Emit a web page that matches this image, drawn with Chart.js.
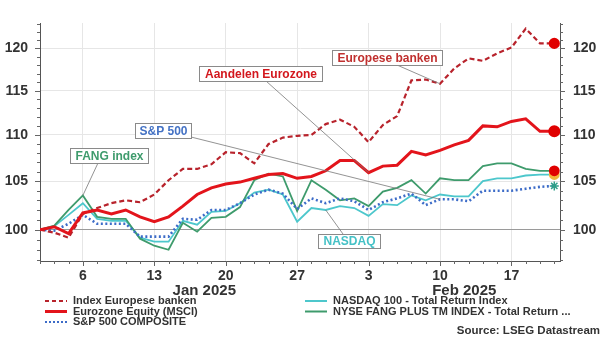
<!DOCTYPE html>
<html>
<head>
<meta charset="utf-8">
<script src="https://cdn.jsdelivr.net/npm/chart.js@4.4.1/dist/chart.umd.min.js"></script>
<style>
html, body { margin: 0; padding: 0; background: #fff; }
</style>
</head>
<body>
<canvas id="chart" width="602" height="338"></canvas>
<script>
// trading days (weekdays) from 1 Jan 2025
const dates = [
    "2025-01-01", "2025-01-02", "2025-01-03",
    "2025-01-06", "2025-01-07", "2025-01-08", "2025-01-09", "2025-01-10",
    "2025-01-13", "2025-01-14", "2025-01-15", "2025-01-16", "2025-01-17",
    "2025-01-20", "2025-01-21", "2025-01-22", "2025-01-23", "2025-01-24",
    "2025-01-27", "2025-01-28", "2025-01-29", "2025-01-30", "2025-01-31",
    "2025-02-03", "2025-02-04", "2025-02-05", "2025-02-06", "2025-02-07",
    "2025-02-10", "2025-02-11", "2025-02-12", "2025-02-13", "2025-02-14",
    "2025-02-17", "2025-02-18", "2025-02-19", "2025-02-20",
];
const months = ["Jan 2025", "Feb 2025"];

const banks = [
    100.0, 99.7, 99.2, 101.6, 102.2, 102.7, 103.0, 102.8, 103.6, 105.1,
    106.3, 106.3, 106.8, 108.1, 108.0, 106.9, 109.0, 109.7, 109.9, 110.0,
    111.2, 111.7, 110.9, 109.2, 111.1, 112.1, 116.2, 116.3, 115.8, 117.6,
    118.8, 118.5, 119.4, 120.1, 122.4, 120.6, 120.6,
];
const eurozone = [
    100.0, 100.3, 99.6, 101.7, 102.0, 101.6, 102.0, 101.3, 100.8, 101.3,
    102.4, 103.6, 104.3, 104.7, 104.9, 105.3, 105.7, 105.8, 105.3, 105.5,
    106.1, 107.2, 107.2, 105.9, 106.6, 106.7, 108.2, 107.8, 108.3, 108.9,
    109.4, 111.0, 110.9, 111.5, 111.8, 110.4, 110.4,
];
const sp500 = [
    100.0, 99.9, 100.6, 101.5, 100.6, 100.6, 100.6, 99.3, 99.3, 99.3,
    101.1, 101.0, 102.0, 102.0, 102.7, 103.6, 104.1, 103.7, 102.1, 103.2,
    102.7, 103.2, 102.9, 102.0, 102.8, 103.2, 103.7, 102.5, 103.1, 103.1,
    102.9, 104.0, 104.0, 104.0, 104.2, 104.4, 104.5,
];
const nasdaq = [
    100.0, 100.35, 101.5, 102.7, 101.1, 100.9, 100.9, 99.2, 98.8, 98.8,
    100.9, 100.5, 101.8, 101.9, 102.7, 103.8, 104.1, 103.6, 100.8, 102.2,
    102.0, 102.4, 102.2, 101.4, 102.6, 102.5, 103.5, 103.0, 103.6, 103.4,
    103.4, 105.0, 105.3, 105.3, 105.6, 105.7, 105.7,
];
const fang = [
    100.0, 100.4, 102.0, 103.5, 101.3, 101.1, 101.1, 99.1, 98.4, 98.0,
    100.7, 99.8, 101.2, 101.3, 102.3, 105.1, 105.8, 105.5, 101.9, 105.1,
    104.1, 103.0, 103.2, 102.4, 103.9, 104.3, 105.1, 103.7, 105.3, 105.1,
    105.1, 106.6, 106.9, 106.9, 106.3, 106.1, 106.1,
];
const yTicks = [100, 105, 110, 115, 120];

const FONT = "'Liberation Sans', Arial, sans-serif";
const last = dates.length - 1;
const mondays = dates.map((d, i) => new Date(d + "T00:00:00").getDay() === 1 ? i : -1).filter(i => i >= 0);
const pts = arr => arr.map((v, i) => ({ x: i, y: v }));
const endOnly = r => c => c.dataIndex === last ? r : 0;

const legendItems = [
    { text: "Index Europese banken", color: "#b8232c", width: 2, dash: [4, 3], col: 0, row: 0 },
    { text: "Eurozone Equity (MSCI)", color: "#e3141b", width: 3, dash: [], col: 0, row: 1 },
    { text: "S&P 500 COMPOSITE", color: "#3d6cc8", width: 2.2, dash: [2, 2], col: 0, row: 2 },
    { text: "NASDAQ 100 - Total Return Index", color: "#4dc7cc", width: 2, dash: [], col: 1, row: 0 },
    { text: "NYSE FANG PLUS TM INDEX - Total Return ...", color: "#3e9b6c", width: 2, dash: [], col: 1, row: 1 },
];

// label boxes and the data point their leader line points to
const notes = [
    { text: "Europese banken", color: "#c0302f", series: banks, idx: 28, box: [332, 50, 110, 15], from: [397, 65] },
    { text: "Aandelen Eurozone", color: "#d3171d", series: eurozone, idx: 23, box: [199, 66, 123, 15], from: [266, 81] },
    { text: "S&P 500", color: "#4472c4", series: sp500, idx: 28, box: [135, 123, 56, 15], from: [191, 137] },
    { text: "FANG index", color: "#3e9b6c", series: fang, idx: 3, box: [70, 148, 78, 15], from: [98, 163] },
    { text: "NASDAQ", color: "#45c1c6", series: nasdaq, idx: 20, box: [318, 234, 62, 14], from: [343, 234] },
];

const extras = {
    id: "extras",
    afterDraw(chart) {
        const { ctx, chartArea: a, scales: { x, y } } = chart;
        ctx.save();

        // minor ticks
        ctx.strokeStyle = "#666";
        ctx.lineWidth = 1;
        ctx.beginPath();
        for (let v = 97; v <= 123; v++) {
            const py = Math.round(y.getPixelForValue(v)) + 0.5;
            const len = v % 5 === 0 ? 5 : 3;
            ctx.moveTo(a.left - len, py); ctx.lineTo(a.left, py);
            ctx.moveTo(a.right, py); ctx.lineTo(a.right + len, py);
        }
        dates.forEach((d, i) => {
            const px = Math.round(x.getPixelForValue(i)) + 0.5;
            const len = mondays.includes(i) ? 5 : 3;
            ctx.moveTo(px, a.bottom); ctx.lineTo(px, a.bottom + len);
        });
        ctx.stroke();

        // month labels
        ctx.fillStyle = "#333";
        ctx.font = "bold 15px " + FONT;
        ctx.textAlign = "center";
        ctx.textBaseline = "middle";
        months.forEach((m, k) => {
            const first = dates.findIndex(d => new Date(d + "T00:00:00").getMonth() === k);
            const next = dates.findIndex(d => new Date(d + "T00:00:00").getMonth() === k + 1);
            const l = first <= 0 ? a.left : x.getPixelForValue(first);
            const r = next < 0 ? a.right : x.getPixelForValue(next);
            ctx.fillText(m, (l + r) / 2, 291);
        });

        // legend
        ctx.font = "bold 11px " + FONT;
        ctx.textAlign = "left";
        legendItems.forEach(it => {
            const lx = it.col === 0 ? 45 : 305;
            const ly = 301 + it.row * 10.5;
            ctx.strokeStyle = it.color;
            ctx.lineWidth = it.width;
            ctx.setLineDash(it.dash);
            ctx.beginPath();
            ctx.moveTo(lx, ly); ctx.lineTo(lx + 22, ly);
            ctx.stroke();
            ctx.setLineDash([]);
            ctx.fillStyle = "#333";
            ctx.fillText(it.text, lx + 28, ly);
        });

        ctx.font = "bold 11.5px " + FONT;
        ctx.textAlign = "right";
        ctx.fillText("Source: LSEG Datastream", 600, 331);

        // annotations
        notes.forEach(n => {
            const tx = x.getPixelForValue(n.idx);
            const ty = y.getPixelForValue(n.series[n.idx]);
            ctx.strokeStyle = "#777";
            ctx.lineWidth = 0.8;
            ctx.beginPath();
            ctx.moveTo(n.from[0], n.from[1]); ctx.lineTo(tx, ty);
            ctx.stroke();
        });
        notes.forEach(n => {
            const [bx, by, bw, bh] = n.box;
            ctx.fillStyle = "#fff";
            ctx.fillRect(bx, by, bw, bh);
            ctx.strokeStyle = "#8a8a8a";
            ctx.lineWidth = 1;
            ctx.strokeRect(bx + 0.5, by + 0.5, bw, bh);
            ctx.fillStyle = n.color;
            ctx.font = "bold 12px " + FONT;
            ctx.textAlign = "center";
            ctx.fillText(n.text, bx + bw / 2 + 0.5, by + bh / 2 + 1);
        });
        ctx.restore();
    }
};

const yAxis = (pos) => ({
    type: "logarithmic",
    position: pos,
    min: 96.9,
    max: 123.1,
    afterBuildTicks: s => { s.ticks = yTicks.map(v => ({ value: v })); },
    afterFit: s => { s.width = pos === "left" ? 40 : 42; },
    ticks: {
        color: "#333",
        padding: pos === "left" ? 12 : 13,
        font: { family: FONT, size: 14, weight: "bold" },
        callback: v => String(v),
    },
    grid: {
        drawOnChartArea: pos === "left",
        drawTicks: false,
        color: c => c.tick && c.tick.value === 100 ? "#9a9a9a" : "#e6e6e6",
    },
    border: { display: true, color: "#555" },
});

new Chart(document.getElementById("chart").getContext("2d"), {
    type: "line",
    data: {
        datasets: [
            {
                label: "Index Europese banken", data: pts(banks), order: 1,
                borderColor: "#b8232c", borderWidth: 2.2, borderDash: [5, 3],
                pointRadius: endOnly(4.5), pointBackgroundColor: "#e00000", pointBorderColor: "#e00000",
            },
            {
                label: "Eurozone Equity (MSCI)", data: pts(eurozone), order: 0,
                borderColor: "#e3141b", borderWidth: 3,
                pointRadius: endOnly(4.5), pointBackgroundColor: "#e00000", pointBorderColor: "#e00000",
            },
            {
                label: "S&P 500 COMPOSITE", data: pts(sp500), order: 2,
                borderColor: "#3d6cc8", borderWidth: 2.6, borderDash: [2, 2.5],
                pointStyle: "star", pointRadius: endOnly(4.5), pointBorderWidth: 1.5,
                pointBackgroundColor: "#2e9e88", pointBorderColor: "#2e9e88",
            },
            {
                label: "NASDAQ 100 - Total Return Index", data: pts(nasdaq), order: 4,
                borderColor: "#4dc7cc", borderWidth: 1.8,
                pointRadius: endOnly(4.5), pointBackgroundColor: "#f2b53a", pointBorderColor: "#f2b53a",
            },
            {
                label: "NYSE FANG PLUS TM INDEX - Total Return ...", data: pts(fang), order: 3,
                borderColor: "#3e9b6c", borderWidth: 1.8,
                pointRadius: endOnly(4.5), pointBackgroundColor: "#e00000", pointBorderColor: "#e00000",
            },
        ],
    },
    options: {
        responsive: false,
        devicePixelRatio: 1,
        animation: false,
        layout: { padding: { top: 23, bottom: 57, left: 0, right: 0 } },
        plugins: { legend: { display: false }, tooltip: { enabled: false } },
        scales: {
            x: {
                type: "linear",
                min: 0,
                max: 36.4,
                afterBuildTicks: s => { s.ticks = mondays.map(i => ({ value: i })); },
                afterFit: s => { s.height = 20; },
                ticks: {
                    color: "#333",
                    padding: 7,
                    maxRotation: 0,
                    font: { family: FONT, size: 14, weight: "bold" },
                    callback: v => String(new Date(dates[v] + "T00:00:00").getDate()),
                },
                grid: { color: "#e6e6e6", drawTicks: false },
                border: { display: true, color: "#555" },
            },
            y: yAxis("left"),
            y2: yAxis("right"),
        },
    },
    plugins: [extras],
});
</script>
</body>
</html>
